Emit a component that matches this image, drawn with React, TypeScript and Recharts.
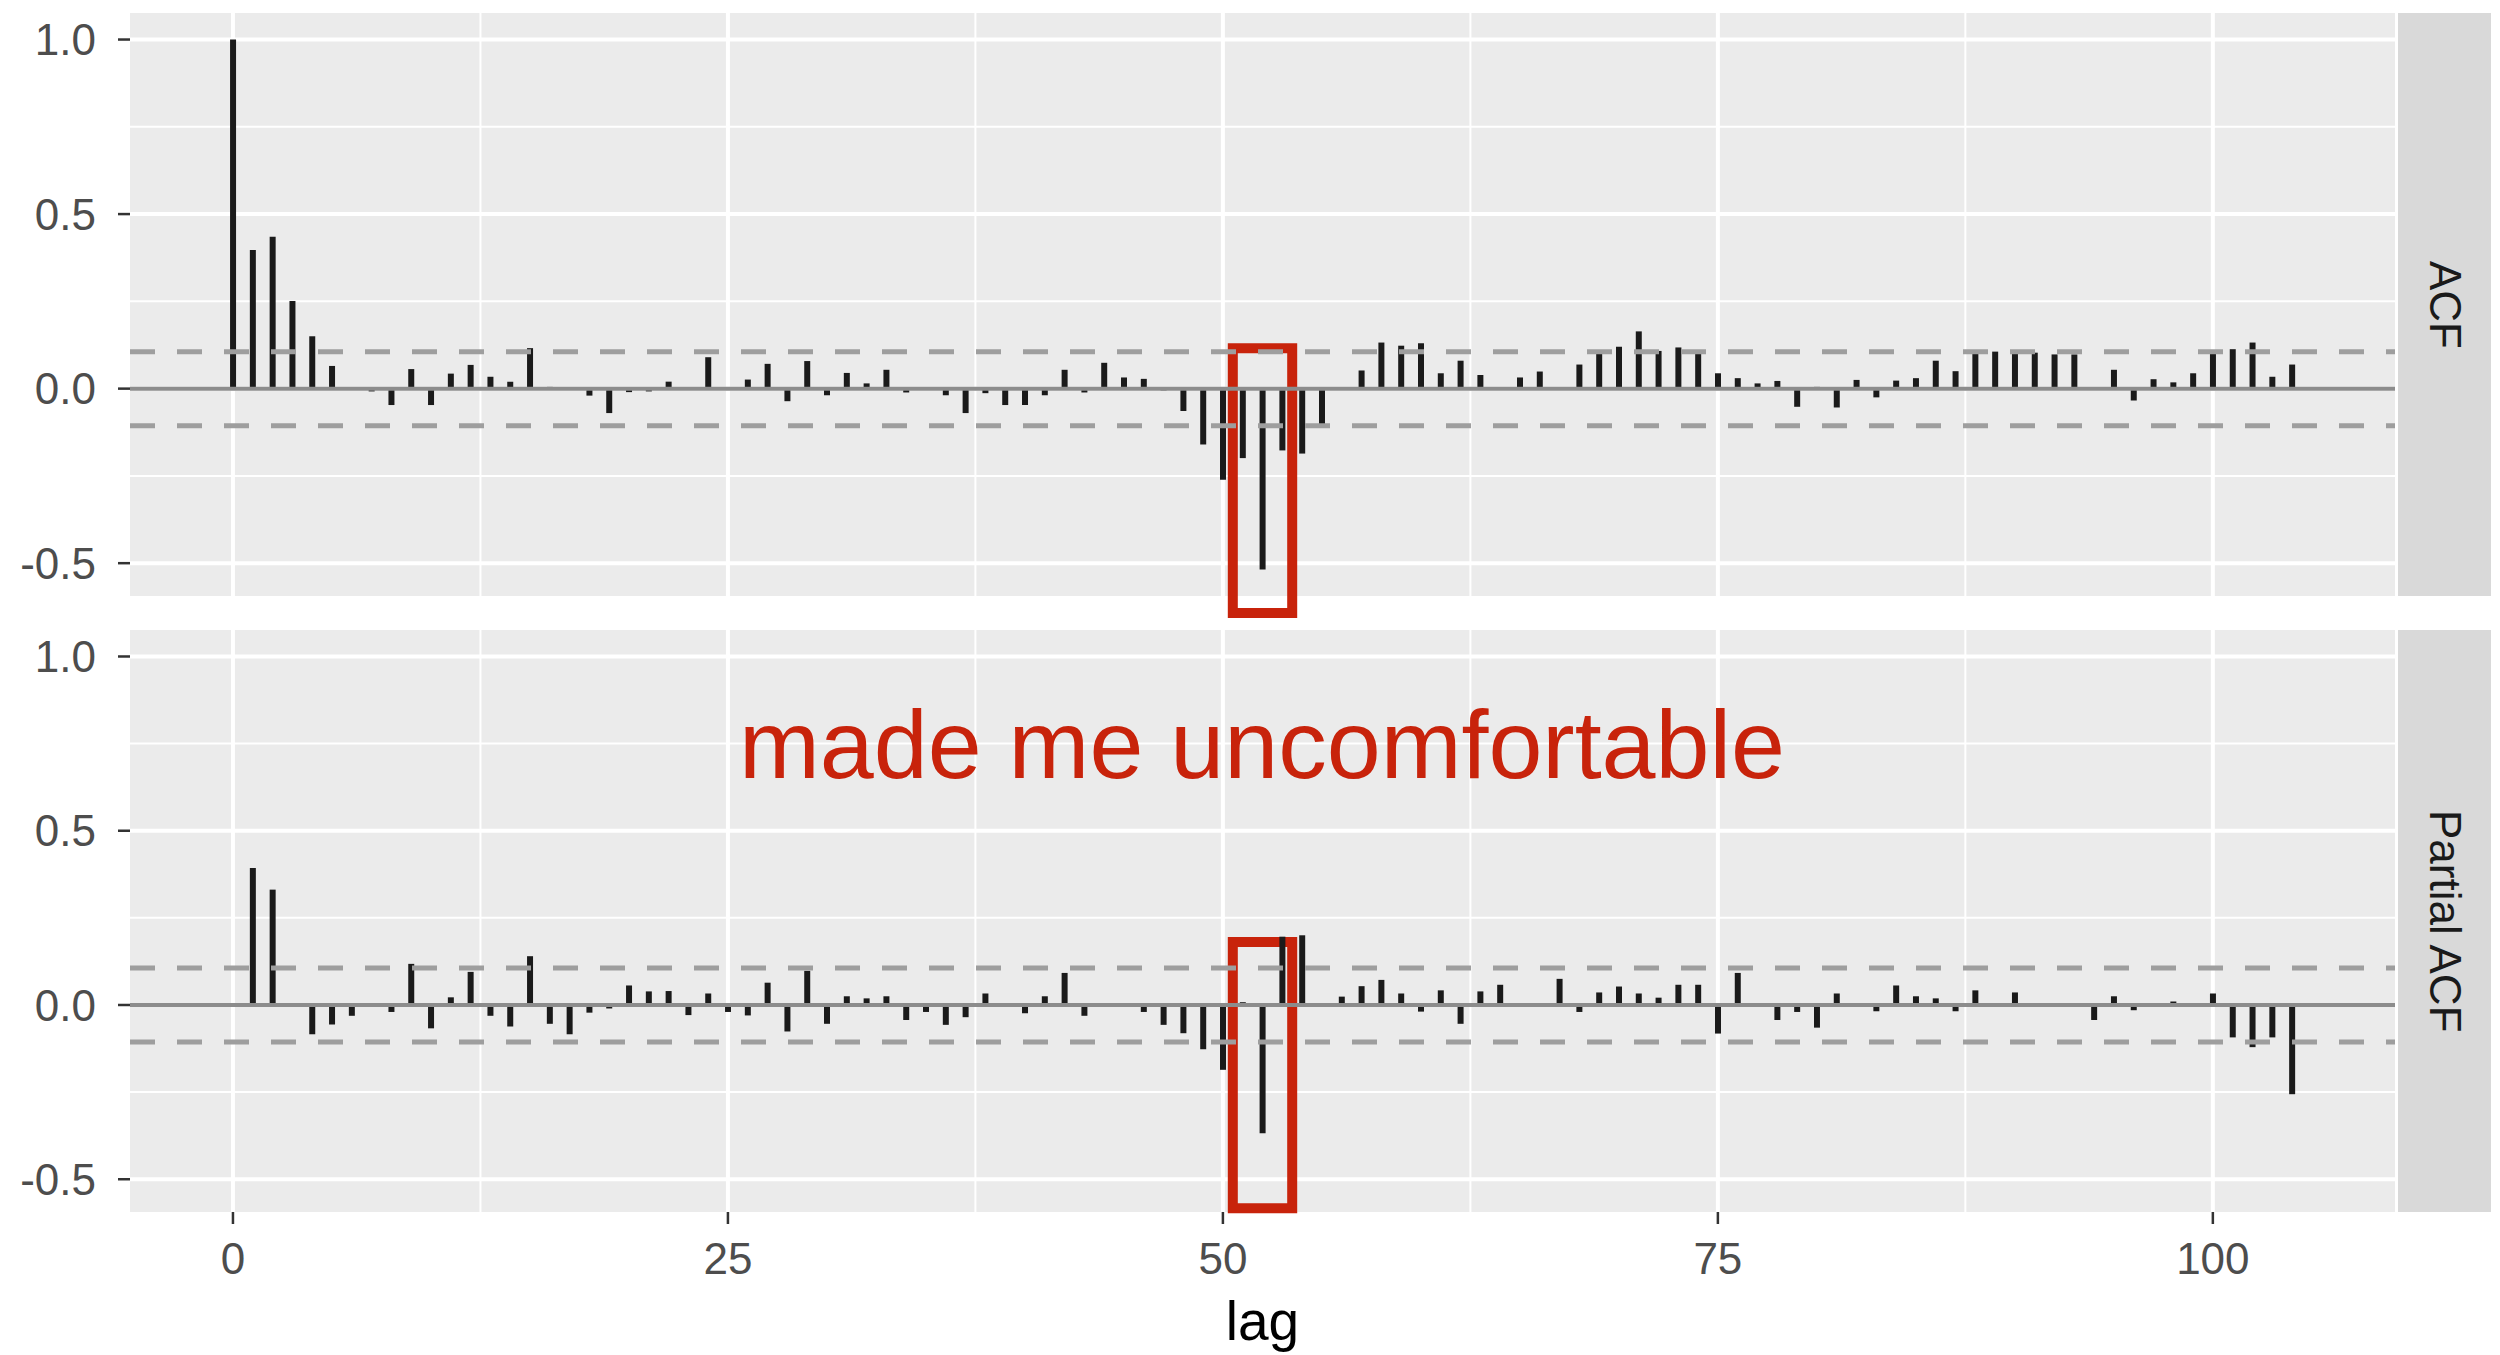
import React from 'react';
import {
  ComposedChart,
  Bar,
  XAxis,
  YAxis,
  CartesianGrid,
  ReferenceLine,
  ReferenceArea,
  Label,
} from 'recharts';

// ACF values for lags 0..104
const acfValues = [
  1.0, 0.397, 0.435, 0.251, 0.15, 0.065, 0.004, -0.008, -0.047, 0.056,
  -0.047, 0.043, 0.068, 0.034, 0.02, 0.116, 0.005, 0.002, -0.02, -0.07,
  -0.01, -0.008, 0.02, 0.002, 0.09, -0.004, 0.026, 0.071, -0.036, 0.079,
  -0.019, 0.045, 0.015, 0.054, -0.011, 0.002, -0.019, -0.07, -0.013, -0.047,
  -0.047, -0.019, 0.054, -0.011, 0.074, 0.032, 0.028, -0.005, -0.064, -0.16,
  -0.261, -0.199, -0.518, -0.177, -0.186, -0.103, 0.003, 0.052, 0.132, 0.123,
  0.13, 0.044, 0.08, 0.039, 0.003, 0.032, 0.049, 0.002, 0.069, 0.108,
  0.12, 0.164, 0.108, 0.118, 0.103, 0.044, 0.03, 0.015, 0.022, -0.052,
  0.005, -0.054, 0.025, -0.025, 0.023, 0.03, 0.08, 0.05, 0.106, 0.106,
  0.103, 0.103, 0.098, 0.098, -0.003, 0.054, -0.034, 0.027, 0.018, 0.044,
  0.106, 0.113, 0.132, 0.034, 0.069,
];

// Partial ACF values for lags 1..104
const pacfValues = [
  0.393, 0.331, 0.005, -0.084, -0.056, -0.031, 0.005, -0.02, 0.118, -0.067,
  0.022, 0.095, -0.031, -0.062, 0.14, -0.054, -0.084, -0.022, -0.01, 0.056,
  0.039, 0.04, -0.029, 0.033, -0.02, -0.03, 0.064, -0.076, 0.098, -0.054,
  0.025, 0.019, 0.025, -0.043, -0.02, -0.057, -0.035, 0.033, 0.002, -0.024,
  0.025, 0.092, -0.031, 0.002, 0.005, -0.02, -0.057, -0.081, -0.127, -0.186,
  0.008, -0.368, 0.196, 0.2, -0.003, 0.024, 0.054, 0.072, 0.033, -0.019,
  0.042, -0.054, 0.039, 0.058, 0.002, 0.003, 0.075, -0.02, 0.036, 0.053,
  0.033, 0.021, 0.058, 0.058, -0.082, 0.092, 0.002, -0.043, -0.02, -0.065,
  0.033, 0.003, -0.018, 0.056, 0.025, 0.019, -0.018, 0.042, 0.005, 0.036,
  0.003, 0.005, 0.005, -0.043, 0.025, -0.015, 0.005, 0.01, 0.002, 0.033,
  -0.093, -0.121, -0.093, -0.256,
];

const xTicks = [0, 25, 50, 75, 100];
const xMinor = [12.5, 37.5, 62.5, 87.5];
const yTicks = [-0.5, 0, 0.5, 1.0];
const yMinor = [-0.25, 0.25, 0.75];
const ciBound = 0.106;
const xDomain = [-5.2, 109.2];
const yDomain = [-0.594, 1.076];
const panelLabels = ['ACF', 'Partial ACF'];
const annotationText = 'made me uncomfortable';
const xTitle = 'lag';

// highlight boxes (data coordinates)
const highlightAcf = { x1: 50.5, x2: 53.5, y1: -0.643, y2: 0.116 };
const highlightPacf = { x1: 50.5, x2: 53.5, y1: -0.583, y2: 0.181 };

const acfData = acfValues.map((v, i) => ({ lag: i, value: v }));
const pacfData = pacfValues.map((v, i) => ({ lag: i + 1, value: v }));

const FONT = '"Liberation Sans", Arial, Helvetica, sans-serif';
const RED = '#C8230B';

type PanelProps = {
  data: { lag: number; value: number }[];
  height: number;
  margin: { top: number; right: number; bottom: number; left: number };
  showX: boolean;
  box: { x1: number; x2: number; y1: number; y2: number };
};

function Panel({ data, height, margin, showX, box }: PanelProps) {
  return (
    <ComposedChart width={2500} height={height} data={data} margin={margin}>
      <CartesianGrid
        fill="#EBEBEB"
        stroke="#FFFFFF"
        strokeWidth={2}
        horizontalValues={yMinor}
        verticalValues={xMinor}
      />
      <CartesianGrid
        stroke="#FFFFFF"
        strokeWidth={4}
        horizontalValues={yTicks}
        verticalValues={xTicks}
      />
      <XAxis
        type="number"
        dataKey="lag"
        domain={xDomain}
        ticks={xTicks}
        interval={0}
        allowDataOverflow
        hide={!showX}
        height={showX ? 132 : 0}
        axisLine={false}
        tickSize={12}
        tickMargin={19}
        tickLine={{ stroke: '#333333', strokeWidth: 2.5 }}
        tick={{ fill: '#4D4D4D', fontSize: 44, fontFamily: FONT }}
      >
        {showX && (
          <Label
            value={xTitle}
            position="insideBottom"
            offset={4}
            style={{ fill: '#000000', fontSize: 55, fontFamily: FONT }}
          />
        )}
      </XAxis>
      <YAxis
        type="number"
        domain={yDomain}
        ticks={yTicks}
        interval={0}
        allowDataOverflow
        width={130}
        axisLine={false}
        tickSize={12}
        tickMargin={22}
        tickLine={{ stroke: '#333333', strokeWidth: 2.5 }}
        tick={{ fill: '#4D4D4D', fontSize: 44, fontFamily: FONT }}
        tickFormatter={(v: number) => v.toFixed(1)}
      />
      <ReferenceLine y={0} stroke="#8C8C8C" strokeWidth={4} />
      <Bar dataKey="value" fill="#1A1A1A" barSize={6} isAnimationActive={false} />
      <ReferenceLine y={ciBound} stroke="#9E9E9E" strokeWidth={5} strokeDasharray="25 22" />
      <ReferenceLine y={-ciBound} stroke="#9E9E9E" strokeWidth={5} strokeDasharray="25 22" />
      <ReferenceArea
        x1={box.x1}
        x2={box.x2}
        y1={box.y1}
        y2={box.y2}
        ifOverflow="visible"
        fill="none"
        fillOpacity={0}
        stroke={RED}
        strokeWidth={10}
      />
    </ComposedChart>
  );
}

function Strip({ top, height, text }: { top: number; height: number; text: string }) {
  return (
    <div
      style={{
        position: 'absolute',
        left: 2398,
        top,
        width: 93,
        height,
        background: '#D9D9D9',
        display: 'flex',
        alignItems: 'center',
        justifyContent: 'center',
      }}
    >
      <span
        style={{
          writingMode: 'vertical-rl',
          fontFamily: FONT,
          fontSize: 44,
          color: '#1A1A1A',
          lineHeight: 1,
        }}
      >
        {text}
      </span>
    </div>
  );
}

export default function App() {
  return (
    <div
      style={{
        position: 'absolute',
        left: 0,
        top: 0,
        width: 2500,
        height: 1355,
        background: '#FFFFFF',
        overflow: 'hidden',
      }}
    >
      <div style={{ position: 'absolute', left: 0, top: 600 }}>
        <Panel
          data={pacfData}
          height={755}
          margin={{ top: 30, right: 105, bottom: 11, left: 0 }}
          showX
          box={highlightPacf}
        />
      </div>
      <div style={{ position: 'absolute', left: 0, top: 0 }}>
        <Panel
          data={acfData}
          height={629}
          margin={{ top: 13, right: 105, bottom: 33, left: 0 }}
          showX={false}
          box={highlightAcf}
        />
      </div>
      <Strip top={13} height={583} text={panelLabels[0]} />
      <Strip top={630} height={582} text={panelLabels[1]} />
      <svg
        width={2500}
        height={1355}
        style={{ position: 'absolute', left: 0, top: 0, pointerEvents: 'none' }}
      >
        <text
          x={1262}
          y={778}
          textAnchor="middle"
          fill={RED}
          fontSize={97}
          fontFamily={FONT}
        >
          {annotationText}
        </text>
      </svg>
    </div>
  );
}
